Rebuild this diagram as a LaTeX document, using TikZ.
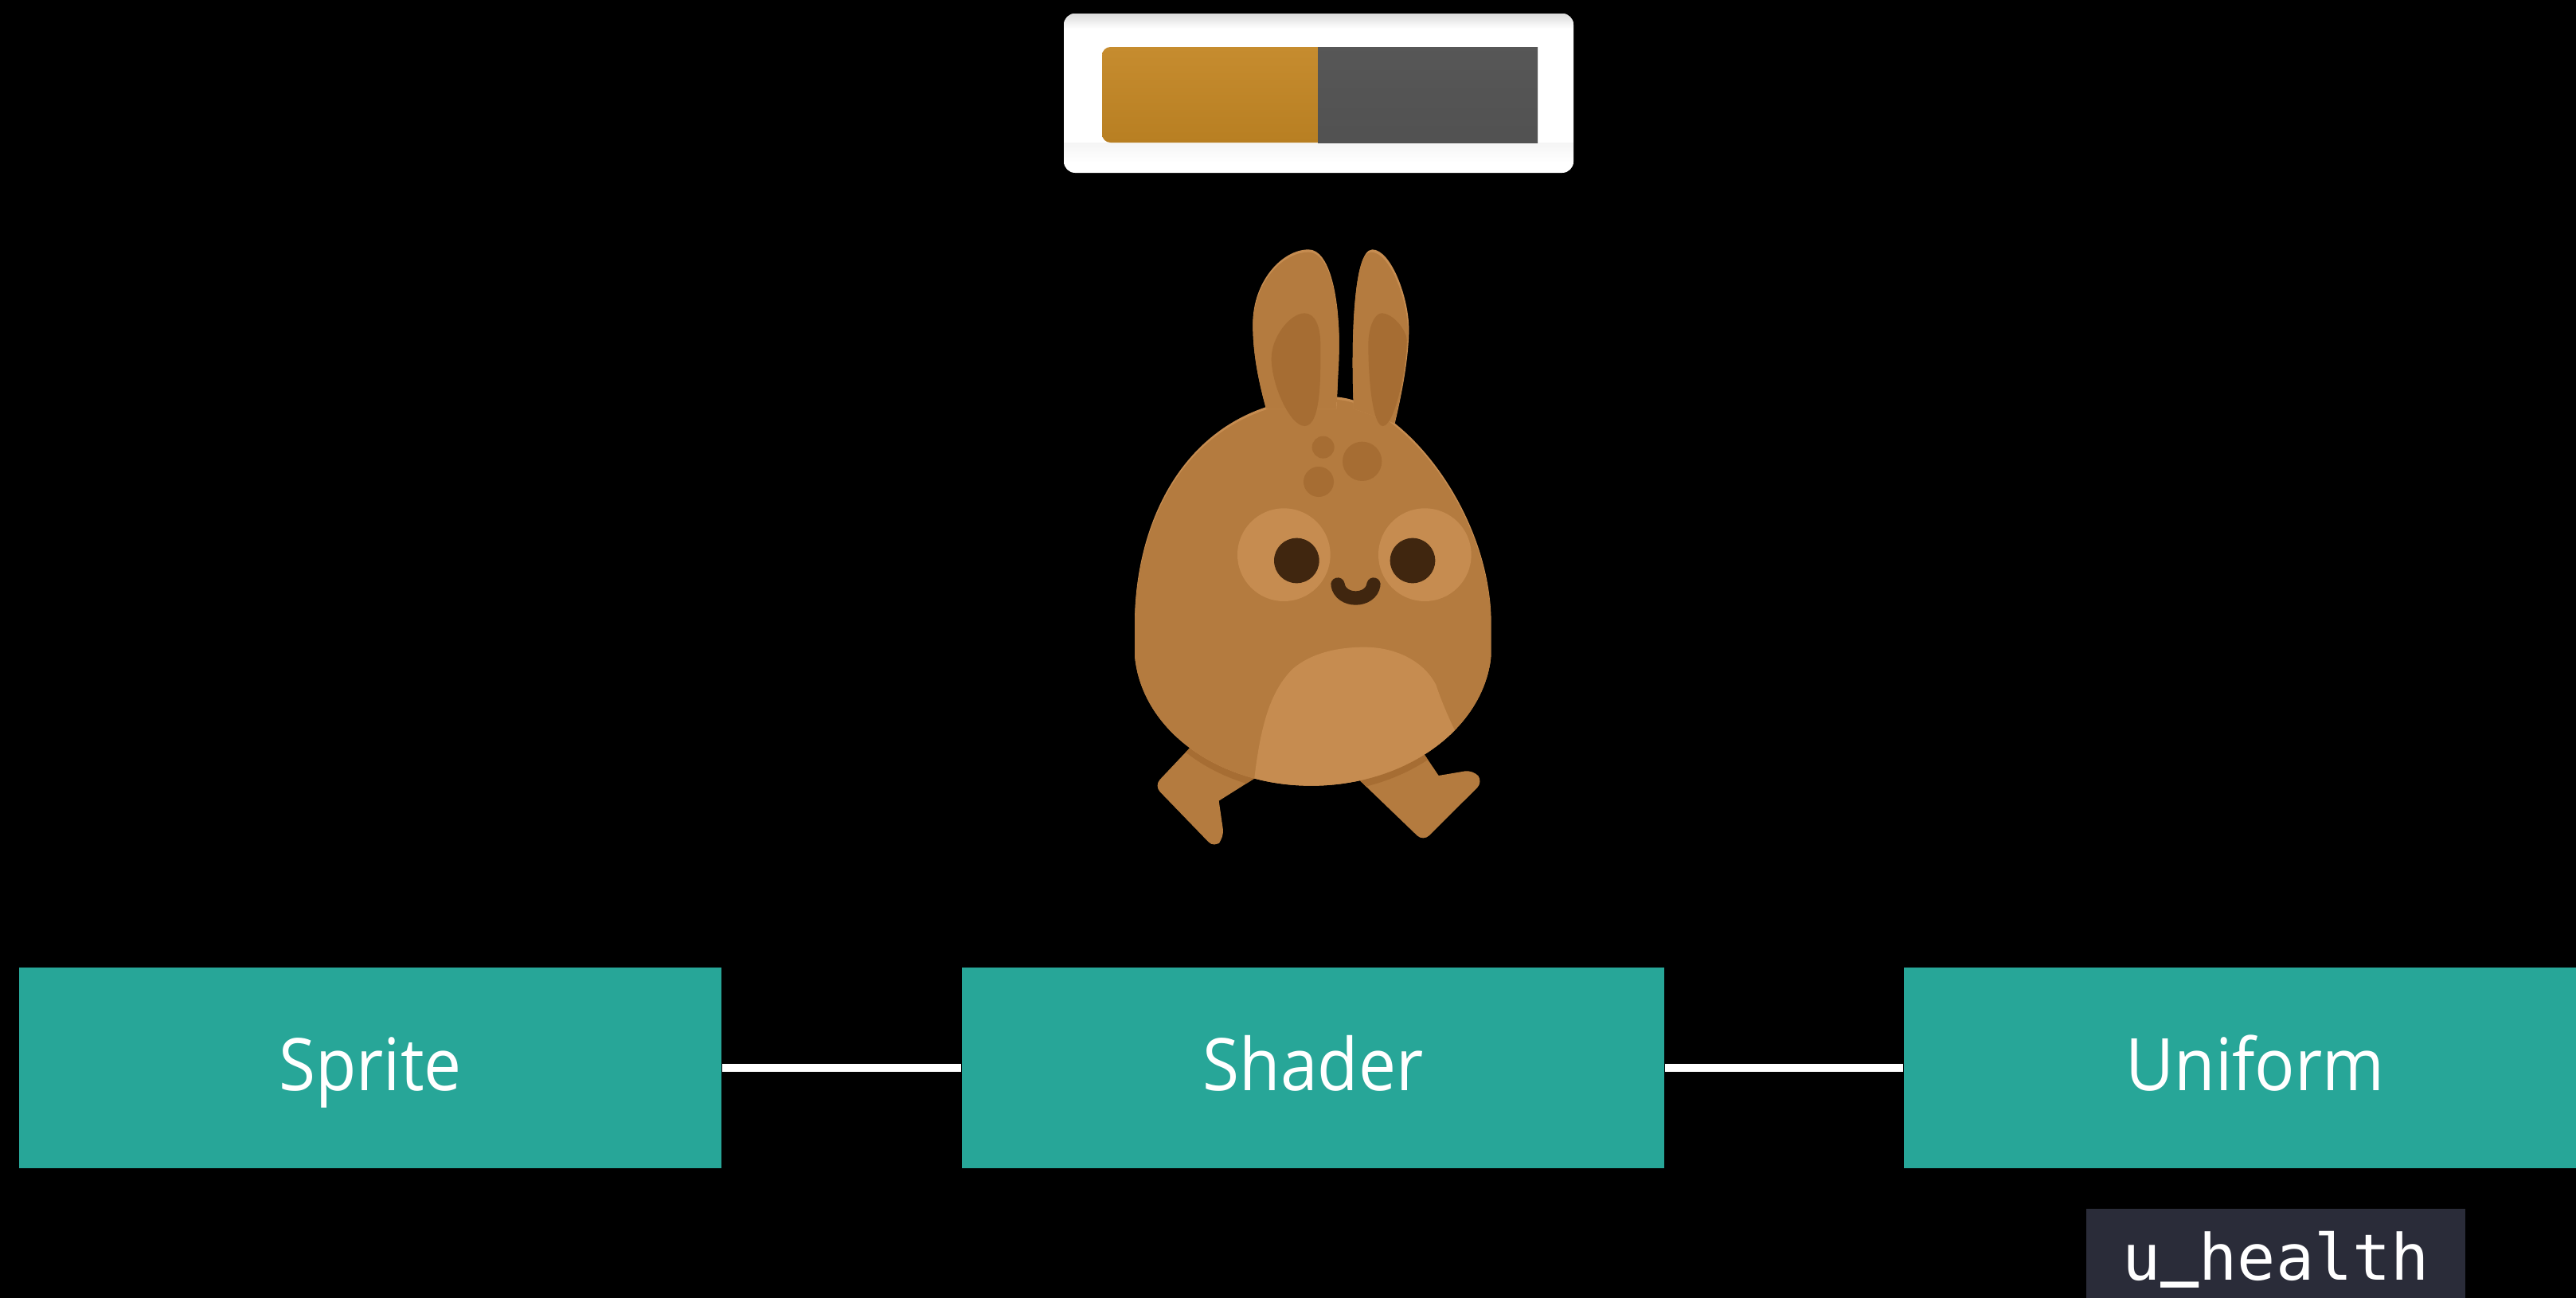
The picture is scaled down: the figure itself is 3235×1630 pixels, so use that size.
\documentclass[tikz,border=0pt]{standalone}
\usepackage{fontspec}
\setmainfont{Open Sans}[FakeStretch=0.92]
\newfontfamily\codefont{DejaVu Sans Mono}
\definecolor{stageteal}{HTML}{27A698}
\definecolor{codebg}{HTML}{2A2C39}
\definecolor{furbase}{HTML}{B47B3F}
\definecolor{furlight}{HTML}{C68C50}
\definecolor{furdark}{HTML}{A66D33}
\definecolor{bunnyeye}{HTML}{40260F}
\definecolor{barhigh}{HTML}{C68C2F}
\definecolor{barlow}{HTML}{B87F22}
% 1 unit = one pixel of a 3235 x 1630 canvas, y running downwards
\newcommand{\pxpt}{0.28453pt}
\tikzset{
  stagebox/.style={fill=stageteal,text=white,inner sep=0pt,anchor=base,
    text width=882*\pxpt,align=center,text height=154*\pxpt,text depth=98*\pxpt,
    font=\fontsize{25.9}{30}\selectfont},
  codebox/.style={fill=codebg,text=white,inner sep=0pt,anchor=base,
    text width=475*\pxpt,align=center,text height=89*\pxpt,text depth=70*\pxpt,
    font=\codefont\fontsize{22.76}{26}\selectfont},
  link/.style={draw=white,line width=10.5*\pxpt},
}
% bunny outlines, in thirds of a pixel
\newcommand{\bunnybody}{(135,1480) .. controls (135,1070) and (350,625) .. (880,625)
  .. controls (1130,625) and (1478,1050) .. (1478,1480) -- (1478,1600)
  .. controls (1450,1880) and (1150,2090) .. (800,2090)
  .. controls (450,2090) and (160,1880) .. (135,1600) -- cycle}
\newcommand{\leftear}{(630,670) .. controls (600,560) and (580,460) .. (580,350)
  .. controls (580,190) and (690,70) .. (790,70)
  .. controls (870,70) and (905,250) .. (905,420)
  .. controls (905,500) and (900,560) .. (895,670) -- cycle}
\newcommand{\rightear}{(960,670) .. controls (950,450) and (955,70) .. (1030,70)
  .. controls (1100,70) and (1168,250) .. (1168,370)
  .. controls (1168,480) and (1140,620) .. (1115,725) -- cycle}
\newcommand{\leftleg}{(500,1900) -- (345,1945)
  [rounded corners=3pt] -- (208,2090) -- (435,2325) -- (472,2285) [sharp corners] -- (452,2147) -- (590,2060) -- (600,1950) -- cycle}
\newcommand{\rightleg}{(985,2000) -- (985,2072)
  [rounded corners=3pt] -- (1222,2300) -- (1448,2075) -- (1410,2030) [sharp corners] -- (1280,2052) -- (1228,1975) -- (1100,1900) -- cycle}
\begin{document}
\begin{tikzpicture}[x=0.01cm,y=-0.01cm]
\useasboundingbox (0,0) rectangle (3235,1630);
\fill[black] (0,0) rectangle (3235,1630);

% health bar
\fill[white,rounded corners=4pt] (1336,17) rectangle (1976,217);
\begin{scope}
  \clip[rounded corners=4pt] (1336,17) rectangle (1976,217);
  \shade[top color=black!14,bottom color=white] (1336,17) rectangle (1976,36);
  \shade[top color=black!4,bottom color=white] (1336,179) rectangle (1976,205);
\end{scope}
\begin{scope}
  \clip[rounded corners=3pt] (1384,59) rectangle (1680,179);
  \shade[top color=barhigh,bottom color=barlow] (1384,59) rectangle (1680,179);
\end{scope}
\shade[top color=black!66,bottom color=black!68] (1655,59) rectangle (1931,179);

% bunny sprite
\begin{scope}[shift={(1380,290)},x=0.01cm/3,y=-0.01cm/3]
  \clip (0,0) rectangle (1560,2310);
  \fill[furbase] \leftleg;
  \fill[furbase] \rightleg;
  \begin{scope}
    \clip \leftleg;
    \fill[furdark,shift={(0,28)}] \bunnybody;
  \end{scope}
  \begin{scope}
    \clip \rightleg;
    \fill[furdark,shift={(0,28)}] \bunnybody;
  \end{scope}
  \fill[furlight] \bunnybody;
  \begin{scope}
    \clip \bunnybody;
    \fill[furbase,shift={(0,10)}] \bunnybody;
    \fill[furlight] (585,2070) .. controls (610,1850) and (650,1730) .. (730,1650)
      .. controls (800,1590) and (900,1568) .. (1000,1568)
      .. controls (1130,1568) and (1230,1630) .. (1270,1710)
      .. controls (1290,1770) and (1320,1840) .. (1345,1890)
      -- (1300,2200) -- (585,2200) -- cycle;
  \end{scope}
  \fill[furlight] \leftear;
  \begin{scope}
    \clip \leftear;
    \fill[furbase,shift={(0,10)}] \leftear;
  \end{scope}
  \fill[furlight] \rightear;
  \begin{scope}
    \clip \rightear;
    \fill[furbase,shift={(-4,10)}] \rightear;
  \end{scope}
  \fill[furdark] (775,735) .. controls (720,735) and (650,580) .. (650,480)
      .. controls (650,400) and (720,310) .. (775,310)
      .. controls (815,310) and (835,360) .. (835,430)
      .. controls (835,530) and (840,735) .. (775,735) -- cycle;
  \fill[furdark] (1070,735) .. controls (1030,735) and (1015,550) .. (1015,430)
      .. controls (1015,360) and (1040,310) .. (1065,310)
      .. controls (1110,310) and (1165,380) .. (1160,420)
      .. controls (1155,550) and (1110,735) .. (1070,735) -- cycle;
  % face details
  \fill[furdark] (845,815) circle (42);
  \fill[furdark] (992,868) circle (74);
  \fill[furdark] (828,945) circle (57);
  \fill[furlight] (697,1220) circle (175);
  \fill[furlight] (1228,1220) circle (175);
  \fill[bunnyeye] (745,1242) circle (85);
  \fill[bunnyeye] (1182,1242) circle (85);
  \draw[bunnyeye,line width=52*0.01cm/3,line cap=round]
    (900,1332) .. controls (910,1400) and (1025,1400) .. (1035,1332);
\end{scope}

% pipeline
\node[stagebox] (sprite) at (465,1369) {Sprite};
\node[stagebox] (shader) at (1649,1369) {Shader};
\node[stagebox] (uniform) at (2832,1369) {Uniform};
\draw[link] (sprite.east) -- (shader.west);
\draw[link] (shader.east) -- (uniform.west);
\node[codebox] (uhealth) at (2858,1607) {u\raisebox{2.3pt}{\bfseries\_}health};
\end{tikzpicture}
\end{document}
